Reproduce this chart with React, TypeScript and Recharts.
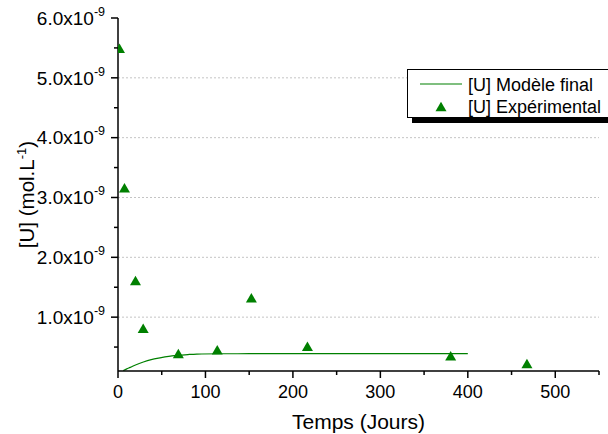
import React from 'react';
import { ComposedChart, Line, Scatter, XAxis, YAxis, ReferenceLine, Legend } from 'recharts';

const FONT = '"Liberation Sans", Arial, Helvetica, sans-serif';
const GREEN = '#008000';

// Experimental points (days, mol/L)
const expDays = [1.7, 7.4, 20, 28.8, 69, 113.5, 152.5, 216.6, 380.4, 467.6];
const expU = [5.49e-9, 3.16e-9, 1.61e-9, 0.81e-9, 0.39e-9, 0.45e-9, 1.32e-9, 0.51e-9, 0.35e-9, 0.22e-9];

// Final model curve
const modelDays = [6, 10, 14, 20, 29, 38, 48, 58, 67, 80, 90, 117, 150, 200, 300, 400];
const modelU = [0.107e-9, 0.135e-9, 0.16e-9, 0.2e-9, 0.25e-9, 0.29e-9, 0.32e-9, 0.345e-9, 0.36e-9, 0.375e-9, 0.383e-9, 0.388e-9, 0.389e-9, 0.39e-9, 0.39e-9, 0.39e-9];

const seriesNames = ['[U] Modèle final', '[U] Expérimental'];

const xMajorTicks = [0, 100, 200, 300, 400, 500];
const xTickLabels = ['0', '100', '200', '300', '400', '500'];
const xMinorTicks = [50, 150, 250, 350, 450, 550];
const xDomain = [0, 550];

const yMajorTicks = [1e-9, 2e-9, 3e-9, 4e-9, 5e-9, 6e-9];
const yTickLabels = ['1.0x10', '2.0x10', '3.0x10', '4.0x10', '5.0x10', '6.0x10'];
const yExponent = '-9';
const yMinorTicks = [0.5e-9, 1.5e-9, 2.5e-9, 3.5e-9, 4.5e-9, 5.5e-9];
const yGridValues = [1e-9, 2e-9, 3e-9, 4e-9, 5e-9];
const yDomain = [0.1e-9, 6e-9];

const xTitle = 'Temps (Jours)';
const yTitleMain = '[U] (mol.L';
const yTitleSup = '-1';
const yTitleEnd = ')';

const expData = expDays.map((x, i) => ({ x, y: expU[i] }));
const modelData = modelDays.map((x, i) => ({ x, y: modelU[i] }));

const findIdx = (arr: number[], v: number) => arr.findIndex((a) => Math.abs(a - v) < 1e-15);

const XTick = (props: any) => {
  const { x, y, payload } = props;
  const idx = xMajorTicks.indexOf(payload.value);
  const major = idx >= 0;
  return (
    <g>
      <line x1={x} y1={y} x2={x} y2={y + (major ? 7 : 4)} stroke="#000" strokeWidth={1.5} />
      {major && (
        <text x={x} y={y + 26.5} textAnchor="middle" fontSize={18} fontFamily={FONT} fill="#000">
          {xTickLabels[idx]}
        </text>
      )}
    </g>
  );
};

const YTick = (props: any) => {
  const { x, y, payload } = props;
  const idx = findIdx(yMajorTicks, payload.value);
  const major = idx >= 0;
  return (
    <g>
      <line x1={x} y1={y} x2={x - (major ? 7 : 4)} y2={y} stroke="#000" strokeWidth={1.5} />
      {major && (
        <text x={x - 13} y={y + 6.8} textAnchor="end" fontSize={19} fontFamily={FONT} fill="#000">
          {yTickLabels[idx]}
          <tspan dy={-9} fontSize={12.5}>{yExponent}</tspan>
        </text>
      )}
    </g>
  );
};

const XTitle = (props: any) => {
  const vb = props.viewBox || {};
  const cx = vb.x + vb.width / 2;
  return (
    <text x={cx} y={vb.y + 58} textAnchor="middle" fontSize={21} fontFamily={FONT} fill="#000">
      {xTitle}
    </text>
  );
};

const YTitle = (props: any) => {
  const vb = props.viewBox || {};
  const cx = 34;
  const cy = vb.y + vb.height / 2;
  return (
    <text
      x={cx}
      y={cy}
      transform={`rotate(-90, ${cx}, ${cy})`}
      textAnchor="middle"
      fontSize={20.5}
      fontFamily={FONT}
      fill="#000"
    >
      {yTitleMain}
      <tspan dy={-8} fontSize={13}>{yTitleSup}</tspan>
      <tspan dy={8}>{yTitleEnd}</tspan>
    </text>
  );
};

const Tri = (props: any) => {
  const { cx, cy } = props;
  if (cx == null || cy == null) return null;
  const w = 5.5;
  return (
    <polygon
      points={`${cx},${cy - 5} ${cx + w},${cy + 4.5} ${cx - w},${cy + 4.5}`}
      fill={GREEN}
      stroke="none"
    />
  );
};

const LegendBox = () => (
  <div style={{ width: 215, height: 49, background: '#fff', boxShadow: '5px 5px 0 #000', position: 'relative' }}>
    <svg width={215} height={49} style={{ display: 'block' }}>
      <rect x={0.5} y={0.5} width={214} height={48} fill="#fff" stroke="#000" strokeWidth={1} />
      <line x1={13} y1={15} x2={55} y2={15} stroke={GREEN} strokeWidth={1.2} />
      <text x={61} y={21.5} fontSize={18} fontFamily={FONT} fill="#000">{seriesNames[0]}</text>
      <Tri cx={34} cy={37.7} />
      <text x={61} y={44} fontSize={18} fontFamily={FONT} fill="#000">{seriesNames[1]}</text>
    </svg>
  </div>
);

export default function App() {
  return (
    <div style={{ position: 'absolute', left: 0, top: 0, width: 608, height: 434, overflow: 'hidden', background: '#fff' }}>
      <ComposedChart width={608} height={434} margin={{ top: 18, right: 9, bottom: 0, left: 0 }}>
        <XAxis
          type="number"
          dataKey="x"
          domain={xDomain}
          ticks={[...xMajorTicks, ...xMinorTicks]}
          interval={0}
          tick={<XTick />}
          tickLine={false}
          tickSize={0}
          tickMargin={0}
          height={63}
          axisLine={{ stroke: '#000', strokeWidth: 1.5 }}
          allowDataOverflow
          label={<XTitle />}
        />
        <YAxis
          type="number"
          dataKey="y"
          domain={yDomain}
          ticks={[...yMajorTicks, ...yMinorTicks]}
          interval={0}
          tick={<YTick />}
          tickLine={false}
          tickSize={0}
          tickMargin={0}
          width={118}
          axisLine={{ stroke: '#000', strokeWidth: 1.5 }}
          allowDataOverflow
          label={<YTitle />}
        />
        {yGridValues.map((v) => (
          <ReferenceLine key={v} y={v} stroke="#c4c4c4" strokeDasharray="2 2" strokeWidth={1} />
        ))}
        <Line
          data={modelData}
          dataKey="y"
          type="monotone"
          stroke={GREEN}
          strokeWidth={1.2}
          dot={false}
          activeDot={false}
          isAnimationActive={false}
          name={seriesNames[0]}
        />
        <Scatter
          data={expData}
          dataKey="y"
          shape={<Tri />}
          isAnimationActive={false}
          name={seriesNames[1]}
        />
        <Legend
          layout="horizontal"
          verticalAlign="middle"
          align="center"
          wrapperStyle={{ left: 407, top: 69, width: 215 }}
          content={<LegendBox />}
        />
      </ComposedChart>
    </div>
  );
}
